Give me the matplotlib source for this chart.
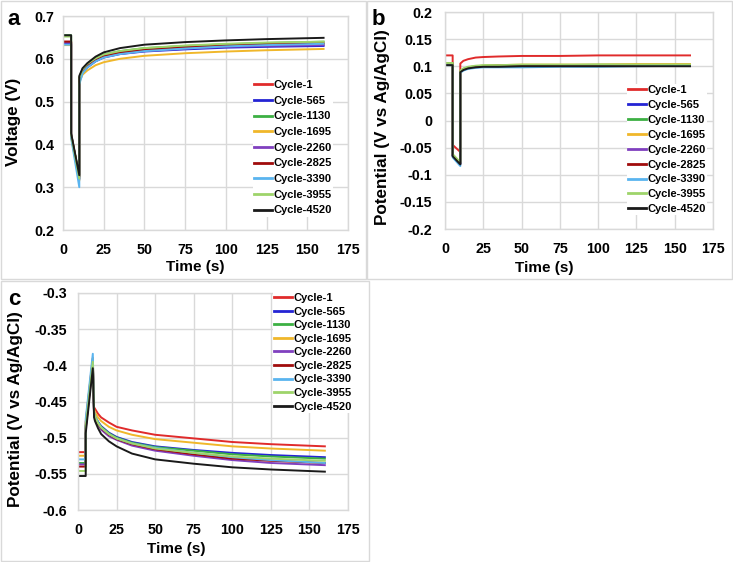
import matplotlib
matplotlib.use("Agg")
import matplotlib.pyplot as plt
from matplotlib.patches import Rectangle

plt.rcParams['font.family'] = ['Liberation Sans', 'DejaVu Sans']
plt.rcParams['font.weight'] = 'bold'

labels = ["Cycle-1", "Cycle-565", "Cycle-1130", "Cycle-1695", "Cycle-2260",
          "Cycle-2825", "Cycle-3390", "Cycle-3955", "Cycle-4520"]
colors = ["#e02b2b", "#2424d4", "#3cb043", "#f0b72a", "#8040bf",
          "#a00c0c", "#5ab4ef", "#9ed46a", "#1a1a1a"]

# ---- panel a: Voltage (V)
t_a = [0, 5, 5, 10, 10, 12, 15, 20, 25, 35, 50, 75, 100, 125, 160]
a_c1    = [0.640, 0.640, 0.422, 0.325, 0.552, 0.572, 0.584, 0.597, 0.605, 0.613, 0.620, 0.626, 0.630, 0.633, 0.635]
a_c565  = [0.635, 0.635, 0.420, 0.318, 0.548, 0.568, 0.580, 0.594, 0.603, 0.611, 0.617, 0.622, 0.626, 0.628, 0.630]
a_c1130 = [0.655, 0.655, 0.424, 0.325, 0.556, 0.576, 0.589, 0.602, 0.610, 0.618, 0.625, 0.630, 0.634, 0.637, 0.640]
a_c1695 = [0.632, 0.632, 0.418, 0.315, 0.545, 0.563, 0.573, 0.585, 0.592, 0.600, 0.607, 0.613, 0.617, 0.620, 0.623]
a_c2260 = [0.638, 0.638, 0.421, 0.320, 0.550, 0.570, 0.582, 0.595, 0.604, 0.612, 0.618, 0.624, 0.628, 0.630, 0.632]
a_c2825 = [0.640, 0.640, 0.423, 0.325, 0.555, 0.574, 0.586, 0.599, 0.607, 0.615, 0.621, 0.627, 0.631, 0.634, 0.636]
a_c3390 = [0.633, 0.633, 0.415, 0.300, 0.540, 0.566, 0.580, 0.594, 0.603, 0.611, 0.618, 0.624, 0.629, 0.632, 0.635]
a_c3955 = [0.652, 0.652, 0.422, 0.320, 0.555, 0.575, 0.588, 0.601, 0.610, 0.618, 0.625, 0.631, 0.635, 0.638, 0.640]
a_c4520 = [0.655, 0.655, 0.426, 0.328, 0.560, 0.578, 0.590, 0.605, 0.615, 0.625, 0.633, 0.639, 0.643, 0.646, 0.649]
a_series = [a_c1, a_c565, a_c1130, a_c1695, a_c2260, a_c2825, a_c3390, a_c3955, a_c4520]
a_yticks = [0.2, 0.3, 0.4, 0.5, 0.6, 0.7]
a_ylabels = ["0.2", "0.3", "0.4", "0.5", "0.6", "0.7"]

# ---- panel b: Potential (V vs Ag/AgCl)
t_b = [0, 5, 5, 10, 10, 12, 15, 20, 25, 35, 50, 75, 100, 125, 160]
b_c1    = [0.120, 0.120, -0.045, -0.058, 0.105, 0.110, 0.113, 0.116, 0.117, 0.118, 0.119, 0.119, 0.120, 0.120, 0.120]
b_c565  = [0.104, 0.104, -0.065, -0.080, 0.090, 0.094, 0.097, 0.099, 0.100, 0.101, 0.101, 0.102, 0.102, 0.102, 0.102]
b_c1130 = [0.106, 0.106, -0.064, -0.079, 0.091, 0.095, 0.098, 0.100, 0.101, 0.102, 0.102, 0.102, 0.103, 0.103, 0.103]
b_c1695 = [0.105, 0.105, -0.063, -0.078, 0.091, 0.095, 0.098, 0.100, 0.101, 0.102, 0.103, 0.103, 0.103, 0.104, 0.104]
b_c2260 = [0.104, 0.104, -0.065, -0.080, 0.090, 0.094, 0.097, 0.099, 0.100, 0.101, 0.101, 0.102, 0.102, 0.102, 0.102]
b_c2825 = [0.104, 0.104, -0.065, -0.080, 0.090, 0.094, 0.097, 0.099, 0.100, 0.101, 0.101, 0.102, 0.102, 0.102, 0.102]
b_c3390 = [0.102, 0.102, -0.068, -0.084, 0.088, 0.092, 0.095, 0.097, 0.098, 0.098, 0.098, 0.099, 0.099, 0.100, 0.101]
b_c3955 = [0.106, 0.106, -0.062, -0.077, 0.092, 0.096, 0.099, 0.101, 0.102, 0.102, 0.103, 0.103, 0.103, 0.103, 0.103]
b_c4520 = [0.102, 0.102, -0.066, -0.081, 0.089, 0.093, 0.096, 0.098, 0.099, 0.099, 0.100, 0.100, 0.100, 0.100, 0.100]
b_series = [b_c1, b_c565, b_c1130, b_c1695, b_c2260, b_c2825, b_c3390, b_c3955, b_c4520]
b_yticks = [-0.2, -0.15, -0.1, -0.05, 0, 0.05, 0.1, 0.15, 0.2]
b_ylabels = ["-0.2", "-0.15", "-0.1", "-0.05", "0", "0.05", "0.1", "0.15", "0.2"]

# ---- panel c: Potential (V vs Ag/AgCl)
t_c = [0, 5, 5, 9.6, 10.4, 11, 13, 15, 20, 25, 35, 50, 75, 100, 125, 160]
c_c1    = [-0.520, -0.520, -0.478, -0.390, -0.458, -0.460, -0.467, -0.472, -0.479, -0.485, -0.490, -0.496, -0.501, -0.506, -0.509, -0.512]
c_c565  = [-0.535, -0.535, -0.485, -0.395, -0.465, -0.470, -0.478, -0.484, -0.493, -0.499, -0.506, -0.512, -0.517, -0.521, -0.524, -0.527]
c_c1130 = [-0.535, -0.535, -0.483, -0.393, -0.466, -0.471, -0.479, -0.485, -0.494, -0.500, -0.507, -0.513, -0.518, -0.523, -0.526, -0.529]
c_c1695 = [-0.525, -0.525, -0.480, -0.390, -0.461, -0.465, -0.472, -0.477, -0.485, -0.490, -0.496, -0.502, -0.507, -0.512, -0.515, -0.518]
c_c2260 = [-0.537, -0.537, -0.485, -0.395, -0.468, -0.473, -0.482, -0.489, -0.498, -0.503, -0.511, -0.518, -0.525, -0.531, -0.535, -0.538]
c_c2825 = [-0.540, -0.540, -0.488, -0.398, -0.467, -0.472, -0.481, -0.487, -0.496, -0.502, -0.509, -0.516, -0.523, -0.529, -0.532, -0.535]
c_c3390 = [-0.530, -0.530, -0.474, -0.384, -0.464, -0.470, -0.479, -0.486, -0.495, -0.501, -0.508, -0.514, -0.521, -0.527, -0.531, -0.535]
c_c3955 = [-0.546, -0.546, -0.485, -0.395, -0.466, -0.471, -0.480, -0.486, -0.495, -0.501, -0.508, -0.515, -0.521, -0.526, -0.529, -0.532]
c_c4520 = [-0.553, -0.553, -0.494, -0.404, -0.472, -0.477, -0.487, -0.495, -0.505, -0.512, -0.522, -0.530, -0.536, -0.541, -0.544, -0.547]
c_series = [c_c1, c_c565, c_c1130, c_c1695, c_c2260, c_c2825, c_c3390, c_c3955, c_c4520]
c_yticks = [-0.6, -0.55, -0.5, -0.45, -0.4, -0.35, -0.3]
c_ylabels = ["-0.6", "-0.55", "-0.5", "-0.45", "-0.4", "-0.35", "-0.3"]

xticks = [0, 25, 50, 75, 100, 125, 150, 175]
xlabels = ["0", "25", "50", "75", "100", "125", "150", "175"]

W, H = 733, 562
fig = plt.figure(figsize=(W / 100, H / 100), dpi=100)
fig.patch.set_facecolor("white")


def px_axes(l, t, r, b):
    return fig.add_axes([l / W, 1 - b / H, (r - l) / W, (b - t) / H])


grid_c = "#d9d9d9"


def style(ax, times, series, yticks, ylabels, ylab, ypad, ylab_xy, xlab_xy,
          leg_xy, leg_spacing):
    for s, c, lab in zip(series, colors, labels):
        ax.plot(times, s, color=c, lw=1.4, label=lab)
    ax.set_xlim(0, 175)
    ax.set_ylim(yticks[0], yticks[-1])
    ax.set_xticks(xticks)
    ax.set_xticklabels(xlabels)
    ax.set_yticks(yticks)
    ax.set_yticklabels(ylabels)
    ax.grid(True, color=grid_c, lw=1.0)
    ax.set_axisbelow(True)
    for sp in ax.spines.values():
        sp.set_color(grid_c)
        sp.set_linewidth(1.0)
    ax.tick_params(length=0, labelsize=10.3)
    ax.tick_params(axis="x", pad=9.5)
    ax.tick_params(axis="y", pad=ypad)
    for tl in ax.get_xticklabels() + ax.get_yticklabels():
        tl.set_fontweight("bold")
    ax.set_xlabel("Time (s)", fontsize=11, fontweight="bold", va="center")
    ax.xaxis.set_label_coords(*xlab_xy)
    ax.set_ylabel(ylab, fontsize=12.3, fontweight="bold", va="center")
    ax.yaxis.set_label_coords(*ylab_xy)
    leg = ax.legend(loc="upper left", bbox_to_anchor=(leg_xy[0] / W, 1 - leg_xy[1] / H),
                    bbox_transform=fig.transFigure, frameon=True, fancybox=False,
                    edgecolor="none", facecolor="white", framealpha=1,
                    fontsize=8, handlelength=1.6, handletextpad=0.15,
                    labelspacing=leg_spacing, borderpad=0.1, borderaxespad=0)
    for txt in leg.get_texts():
        txt.set_fontweight("bold")
    for ln in leg.get_lines():
        ln.set_linewidth(2)


ax_a = px_axes(63, 16, 348, 230)
style(ax_a, t_a, a_series, a_yticks, a_ylabels, "Voltage (V)", 6,
      (-0.172, 0.505), (0.463, -0.173), (253, 79), 0.51)
ax_b = px_axes(445, 12, 713, 229)
style(ax_b, t_b, b_series, b_yticks, b_ylabels, "Potential (V vs Ag/AgCl)", 9,
      (-0.235, 0.47), (0.369, -0.18), (627, 84), 0.44)
ax_c = px_axes(78, 293, 348, 510)
style(ax_c, t_c, c_series, c_yticks, c_ylabels, "Potential (V vs Ag/AgCl)", 8,
      (-0.233, 0.465), (0.363, -0.18), (273, 292), 0.32)

# panel frames
for (l, t, r, b) in [(1, 1, 366, 279), (367, 1, 732, 279), (1, 281, 369, 561)]:
    fig.add_artist(Rectangle((l / W, 1 - b / H), (r - l) / W, (b - t) / H,
                             transform=fig.transFigure, fill=False,
                             edgecolor="#d9d9d9", lw=1.0))

for letter, x, y in [("a", 7, 25), ("b", 372, 25), ("c", 8, 305)]:
    fig.text(x / W, 1 - y / H, letter, fontsize=16, fontweight="bold",
             ha="left", va="baseline")

fig.savefig("out.png", dpi=100)
